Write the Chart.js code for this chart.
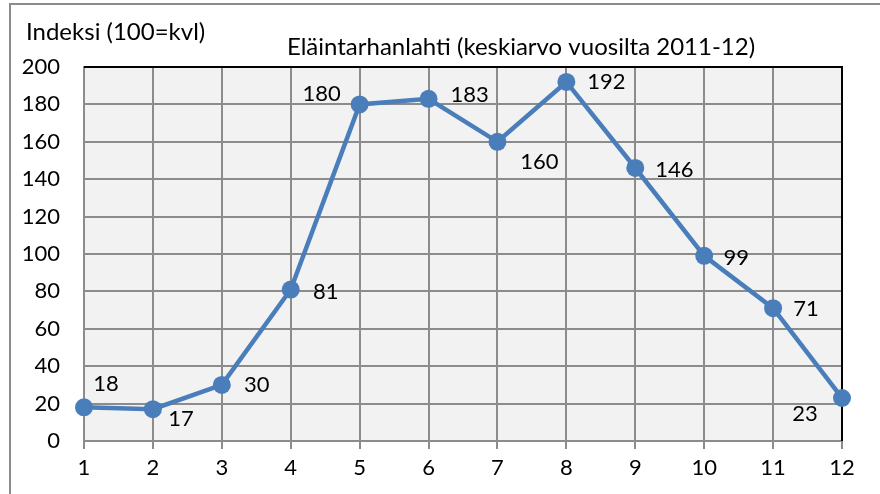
<!DOCTYPE html>
<html>
<head>
<meta charset="utf-8">
<script src="https://cdn.jsdelivr.net/npm/chart.js@4.4.1/dist/chart.umd.min.js"></script>
<style>
  html, body { margin: 0; padding: 0; background: #fff; }
  #wrap { width: 880px; height: 494px; position: relative; }
</style>
</head>
<body>
<div id="wrap"><canvas id="chart" width="880" height="494"></canvas></div>
<script>
// ------------------------------------------------------------
// Data — monthly index, Eläintarhanlahti (avg 2011-12)
// ------------------------------------------------------------
const months = ['1', '2', '3', '4', '5', '6', '7', '8', '9', '10', '11', '12'];
const indexValues = [18, 17, 30, 81, 180, 183, 160, 192, 146, 99, 71, 23];
const yTicks = [0, 20, 40, 60, 80, 100, 120, 140, 160, 180, 200];

const chartTitle = 'Eläintarhanlahti (keskiarvo vuosilta 2011-12)';
const yAxisTitle = 'Indeksi (100=kvl)';

// label offsets from each point (dx, dy), px — mimics the Excel placement
const labelOffsets = [
    [22, -23], [28, 10], [35, 0], [35, 2], [-38, -10], [41, -4],
    [42, 20], [40, 0], [39, 2], [32, 2], [33, 1], [-37, 16]
];

const FONT = 'Lato, "Open Sans", sans-serif';
const LINE_BLUE = '#4a7ebb';

// Frame, plot background and text drawn around the chart area
const decorPlugin = {
    id: 'decor',
    beforeDraw(chart) {
        const { ctx, chartArea: a } = chart;
        ctx.save();
        ctx.fillStyle = '#fff';
        ctx.fillRect(0, 0, chart.width, chart.height);
        ctx.strokeStyle = '#8c8c8c';
        ctx.lineWidth = 2;
        ctx.strokeRect(10, 4, chart.width + 20, chart.height + 20);
        ctx.fillStyle = '#f2f2f2';
        ctx.fillRect(a.left, a.top, a.right - a.left, a.bottom - a.top);
        ctx.restore();
    },
    beforeDatasetsDraw(chart) {
        const { ctx, chartArea: a } = chart;
        ctx.save();
        ctx.strokeStyle = '#000';
        ctx.lineWidth = 2;
        ctx.beginPath();
        ctx.moveTo(a.left, a.top);
        ctx.lineTo(a.right, a.top);
        ctx.lineTo(a.right, a.bottom);
        ctx.stroke();
        ctx.restore();
    },
    afterDraw(chart) {
        const { ctx } = chart;
        ctx.save();
        ctx.fillStyle = '#000';
        ctx.font = `24px ${FONT}`;
        ctx.textBaseline = 'middle';
        ctx.textAlign = 'left';
        ctx.fillText(yAxisTitle, 26, 32);
        ctx.textAlign = 'center';
        ctx.fillText(chartTitle, 521, 47);

        // data labels
        const meta = chart.getDatasetMeta(0);
        ctx.font = `22px ${FONT}`;
        meta.data.forEach((pt, i) => {
            const [dx, dy] = labelOffsets[i];
            ctx.fillText(String(indexValues[i]), pt.x + dx, pt.y + dy);
        });
        ctx.restore();
    }
};

const ctx = document.getElementById('chart').getContext('2d');
new Chart(ctx, {
    type: 'line',
    data: {
        labels: months,
        datasets: [{
            data: indexValues,
            borderColor: LINE_BLUE,
            backgroundColor: LINE_BLUE,
            borderWidth: 4.5,
            pointRadius: 9,
            pointBorderWidth: 0,
            pointBackgroundColor: LINE_BLUE,
            tension: 0,
            clip: false
        }]
    },
    options: {
        responsive: false,
        animation: false,
        events: [],
        layout: { padding: { left: 10, right: 38, top: 67, bottom: 0 } },
        plugins: {
            legend: { display: false },
            tooltip: { enabled: false }
        },
        scales: {
            x: {
                type: 'category',
                offset: false,
                grid: {
                    offset: false,
                    color: '#8c8c8c',
                    lineWidth: 2,
                    tickLength: 8,
                    drawOnChartArea: true
                },
                border: { color: '#8c8c8c', width: 2 },
                ticks: {
                    color: '#000',
                    padding: 6,
                    maxRotation: 0,
                    font: { family: FONT, size: 22 }
                },
                afterFit: axis => { axis.height = 53; }
            },
            y: {
                min: 0,
                max: 200,
                afterBuildTicks: axis => { axis.ticks = yTicks.map(v => ({ value: v })); },
                grid: {
                    color: '#8c8c8c',
                    lineWidth: 2,
                    drawTicks: false
                },
                border: { color: '#8c8c8c', width: 2 },
                ticks: {
                    color: '#000',
                    padding: 24,
                    font: { family: FONT, size: 22 }
                },
                afterFit: axis => { axis.width = 74; }
            }
        }
    },
    plugins: [decorPlugin]
});
</script>
</body>
</html>
